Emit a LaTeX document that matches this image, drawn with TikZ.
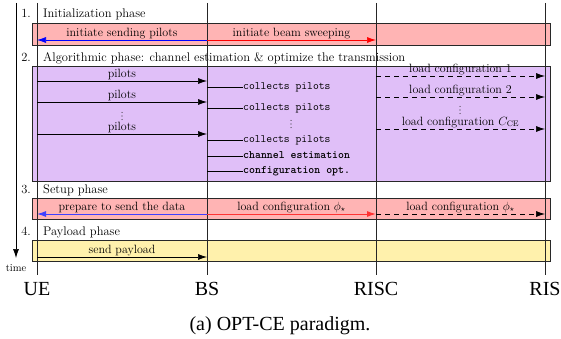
\documentclass[tikz,border=0pt]{standalone}
\usepackage{fontspec}
\newfontfamily\timesfont{Liberation Serif}
\usetikzlibrary{arrows.meta}
\definecolor{boxred}{RGB}{255,180,180}
\definecolor{boxpurple}{RGB}{224,191,248}
\definecolor{boxyellow}{RGB}{255,241,172}
\definecolor{edgegray}{RGB}{40,40,40}
\tikzset{
  phasebox/.style={draw=edgegray, line width=0.7pt, minimum width=518pt, inner sep=0pt},
  lifeline/.style={draw=black!85, line width=0.7pt},
  msg/.style={line width=0.7pt, -{Latex[length=9pt,width=6pt]}},
  dmsg/.style={msg, dash pattern=on 5pt off 4pt},
  title/.style={font=\fontsize{12.5}{14}\selectfont, inner sep=0pt},
  lbl/.style={font=\fontsize{12}{13}\selectfont, inner sep=0pt, anchor=south},
  ttl/.style={font=\fontsize{11.3}{13}\selectfont\ttfamily, inner sep=0pt, anchor=mid west},
  ttb/.style={font=\fontsize{11.3}{13}\selectfont\ttfamily\bfseries, inner sep=0pt, anchor=mid west},
  actor/.style={font=\fontsize{20}{22}\selectfont\timesfont, inner sep=0pt, anchor=base},
  dotmark/.style={fill=black!80, draw=none},
  proc/.style={line width=0.7pt},
}
\newcommand{\vdotsat}[2]{%
  \fill[dotmark] (#1,#2-3.6) circle (0.6pt);
  \fill[dotmark] (#1,#2) circle (0.6pt);
  \fill[dotmark] (#1,#2+3.6) circle (0.6pt);}
\begin{document}
\begin{tikzpicture}[x=1pt,y=-1pt]
\useasboundingbox (0,0) rectangle (561,339);
% phase boxes
\node[phasebox, fill=boxred, minimum height=22pt] (box1) at (291,34) {};
\node[phasebox, fill=boxpurple, minimum height=115pt] (box2) at (291,123.5) {};
\node[phasebox, fill=boxred, minimum height=21pt] (box3) at (291,208.5) {};
\node[phasebox, fill=boxyellow, minimum height=21pt] (box4) at (291,251) {};
% phase titles
\node[title, anchor=base east] (n1) at (31,18) {1.};
\node[title, anchor=base west] (t1) at (43,18) {Initialization phase};
\node[title, anchor=base east] (n2) at (31,61.5) {2.};
\node[title, anchor=base west] (t2) at (43,61.5) {Algorithmic phase: channel estimation \& optimize the transmission};
\node[title, anchor=base east] (n3) at (31,193) {3.};
\node[title, anchor=base west] (t3) at (43,193) {Setup phase};
\node[title, anchor=base east] (n4) at (31,235) {4.};
\node[title, anchor=base west] (t4) at (43,235) {Payload phase};
% lifelines
\coordinate (ueT) at (37,3);   \coordinate (ueB) at (37,275);
\coordinate (bsT) at (207,3);  \coordinate (bsB) at (207,275);
\coordinate (rcT) at (376,3);  \coordinate (rcB) at (376,275);
\coordinate (riT) at (545,3);  \coordinate (riB) at (545,275);
\draw[lifeline] (ueT) -- (ueB);
\draw[lifeline] (bsT) -- (bsB);
\draw[lifeline] (rcT) -- (rcB);
\draw[lifeline] (riT) -- (riB);
\node[actor] (ue) at (37,295) {UE};
\node[actor] (bs) at (207,295) {BS};
\node[actor] (risc) at (376,295) {RISC};
\node[actor] (ris) at (545,295) {RIS};
% time axis
\coordinate (tT) at (16,3); \coordinate (tB) at (16,258);
\draw[line width=0.7pt, -{Latex[length=9pt,width=6pt]}] (tT) -- (tB);
\node[font=\fontsize{10.5}{12}\selectfont, inner sep=0pt] (time) at (16,268) {time};
% phase 1
\coordinate (ue1) at (37,40); \coordinate (bs1) at (207,40); \coordinate (rc1) at (376,40);
\draw[msg, blue] (bs1) -- (ue1) node[lbl, black, midway, above=1pt] {initiate sending pilots};
\draw[msg, red] (bs1) -- (rc1) node[lbl, black, midway, above=1pt] {initiate beam sweeping};
% phase 2: pilots
\coordinate (ue2a) at (37,81);  \coordinate (bs2a) at (207,81);
\coordinate (ue2b) at (37,102); \coordinate (bs2b) at (207,102);
\coordinate (ue2c) at (37,134); \coordinate (bs2c) at (207,134);
\draw[msg] (ue2a) -- (bs2a) node[lbl, midway, above=1pt] {pilots};
\draw[msg] (ue2b) -- (bs2b) node[lbl, midway, above=1pt] {pilots};
\draw[msg] (ue2c) -- (bs2c) node[lbl, midway, above=1pt] {pilots};
\vdotsat{122}{116}
% BS processing
\coordinate (bs3a) at (207,87);  \node[ttl] (cp1) at (243,87) {collects pilots};
\coordinate (bs3b) at (207,108); \node[ttl] (cp2) at (243,108) {collects pilots};
\coordinate (bs3c) at (207,140); \node[ttl] (cp3) at (243,140) {collects pilots};
\coordinate (bs3d) at (207,156); \node[ttb] (ce) at (243,156) {channel estimation};
\coordinate (bs3e) at (207,171); \node[ttb] (co) at (243,171) {configuration opt.};
\draw[proc] (bs3a) -- (cp1.mid west);
\draw[proc] (bs3b) -- (cp2.mid west);
\draw[proc] (bs3c) -- (cp3.mid west);
\draw[proc] (bs3d) -- (ce.mid west);
\draw[proc] (bs3e) -- (co.mid west);
\vdotsat{291}{124}
% RISC -> RIS
\coordinate (rc4a) at (376,76);  \coordinate (ri4a) at (545,76);
\coordinate (rc4b) at (376,97);  \coordinate (ri4b) at (545,97);
\coordinate (rc4c) at (376,129); \coordinate (ri4c) at (545,129);
\draw[dmsg] (rc4a) -- (ri4a) node[lbl, midway, above=1pt] {load configuration 1};
\draw[dmsg] (rc4b) -- (ri4b) node[lbl, midway, above=1pt] {load configuration 2};
\draw[dmsg] (rc4c) -- (ri4c) node[lbl, midway, above=1pt] {load configuration $C_{\mathrm{CE}}$};
\vdotsat{460}{110}
% phase 3
\coordinate (ue5) at (37,214); \coordinate (bs5) at (207,214);
\coordinate (rc5) at (376,214); \coordinate (ri5) at (545,214);
\draw[msg, blue!75, line width=1pt] (bs5) -- (ue5) node[lbl, black, midway, above=1pt] {prepare to send the data};
\draw[msg, red!80, line width=1pt] (bs5) -- (rc5) node[lbl, black, midway, above=1pt] {load configuration $\phi_\star$};
\draw[dmsg] (rc5) -- (ri5) node[lbl, midway, above=1pt] {load configuration $\phi_\star$};
% phase 4
\coordinate (ue6) at (37,257); \coordinate (bs6) at (207,257);
\draw[msg] (ue6) -- (bs6) node[lbl, midway, above=1pt] {send payload};
% caption
\node[font=\fontsize{20}{22}\selectfont\timesfont, inner sep=0pt, anchor=base] (cap) at (280,330) {(a) OPT-CE paradigm.};
\end{tikzpicture}
\end{document}
